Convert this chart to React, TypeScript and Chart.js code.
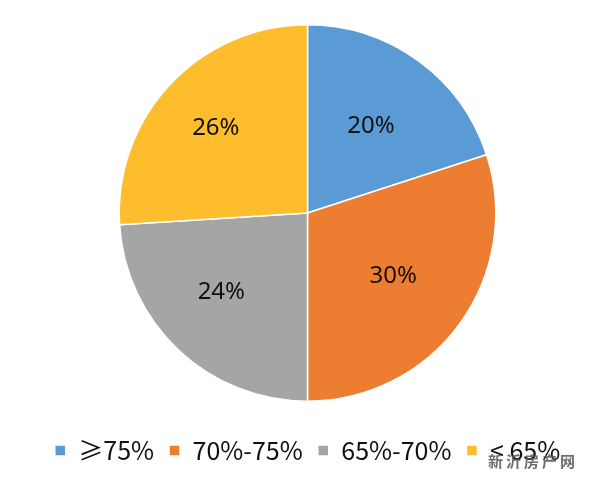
import React, { useEffect, useRef } from "react";
import { Chart, registerables } from "chart.js";

Chart.register(...registerables);

const categories = ["≥75%", "70%-75%", "65%-70%", "< 65%"];
const values = [20, 30, 24, 26];
const colors = ["#5B9BD5", "#ED7D31", "#A5A5A5", "#FDBD2D"];
const valueLabels = ["20%", "30%", "24%", "26%"];

const labelRadius = [0.574, 0.563, 0.618, 0.668];
const labelAngleShift = [0, 0, 0.08, 0];

const labelPlugin = {
  id: "sliceLabels",
  afterLayout(chart: any) {
    const lg = chart.legend;
    if (lg) {
      const shift = 448 - (lg.top + lg.height / 2);
      lg.top += shift;
      lg.bottom += shift;
    }
  },
  afterDatasetsDraw(chart: any) {
    const ctx = chart.ctx;
    const meta = chart.getDatasetMeta(0);
    ctx.save();
    ctx.font = "24px 'Noto Sans', 'DejaVu Sans', sans-serif";
    ctx.fillStyle = "#111";
    ctx.textAlign = "center";
    ctx.textBaseline = "middle";
    meta.data.forEach((arc: any, i: number) => {
      const p = arc.getProps(["x", "y", "startAngle", "endAngle", "outerRadius"], true);
      const mid = (p.startAngle + p.endAngle) / 2 + labelAngleShift[i];
      const r = p.outerRadius * labelRadius[i];
      ctx.fillText(valueLabels[i], p.x + Math.cos(mid) * r, p.y + Math.sin(mid) * r + 1);
    });
    ctx.restore();
  },
};

export default function App() {
  const ref = useRef<HTMLCanvasElement>(null);
  useEffect(() => {
    const chart = new Chart(ref.current!, {
      type: "pie",
      data: {
        labels: categories,
        datasets: [
          {
            data: values,
            backgroundColor: colors,
            borderColor: "#fff",
            borderWidth: 1.5,
          },
        ],
      },
      options: {
        animation: false,
        responsive: false,
        layout: { padding: { top: 24, left: 15, right: 0, bottom: 35 } },
        plugins: {
          tooltip: { enabled: false },
          legend: {
            position: "bottom",
            labels: {
              boxWidth: 11,
              boxHeight: 11,
              padding: 15,
              color: "#111",
              font: { size: 25, family: "'Noto Sans CJK SC', 'Noto Sans', sans-serif" },
            },
          },
        },
      },
      plugins: [labelPlugin],
    });
    return () => chart.destroy();
  }, []);
  return (
    <div style={{ position: "fixed", left: 0, top: 0, width: 600, height: 487, background: "#fff" }}>
      <canvas ref={ref} width={600} height={487} />
      <div
        style={{
          position: "absolute",
          left: 488,
          top: 450,
          fontFamily: "'Noto Sans CJK SC', sans-serif",
          fontWeight: "bold",
          fontSize: 15,
          color: "#555",
          letterSpacing: 3,
          opacity: 0.85,
        }}
      >
        新沂房产网
      </div>
    </div>
  );
}
